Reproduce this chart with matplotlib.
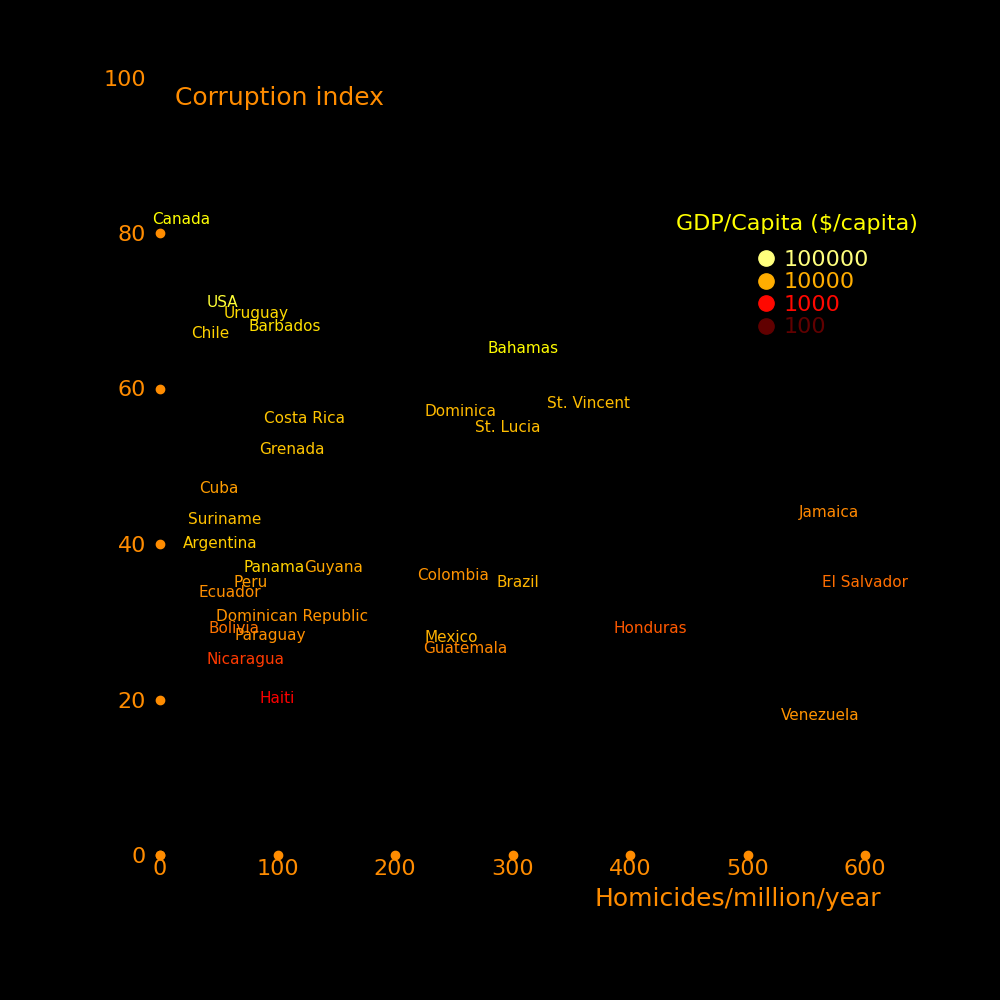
import numpy as np
import matplotlib.pyplot as plt
import matplotlib as mpl
from matplotlib.lines import Line2D

countries = ['Canada', 'USA', 'Uruguay', 'Barbados', 'Chile', 'Bahamas', 'Costa Rica',
             'Dominica', 'St. Vincent', 'St. Lucia', 'Grenada', 'Cuba', 'Suriname',
             'Argentina', 'Jamaica', 'Panama', 'Guyana', 'Colombia', 'Peru', 'Brazil',
             'El Salvador', 'Ecuador', 'Dominican Republic', 'Bolivia', 'Honduras',
             'Paraguay', 'Mexico', 'Guatemala', 'Nicaragua', 'Haiti', 'Venezuela']
homicides = [18, 53, 82, 106, 43, 309, 123, 256, 365, 296, 112, 50, 55, 51, 569,
             97, 148, 249, 77, 305, 600, 59, 112, 63, 417, 94, 248, 260, 73, 100, 562]
corruption = [81.8, 71.1, 69.6, 68.0, 67.1, 65.1, 56.1, 57.1, 58.1, 55.0, 52.1, 47.1,
              43.1, 40.1, 44.1, 37.0, 37.0, 36.0, 35.1, 35.1, 35.1, 33.7, 30.7, 29.1,
              29.1, 28.2, 28.0, 26.5, 25.1, 20.1, 18.0]
gdp = [32500, 52500, 18500, 20000, 16500, 30000, 14000, 11800, 12300, 12300, 14000,
       8000, 12800, 15500, 6000, 16500, 9400, 7000, 7700, 11200, 4100, 6500, 7000,
       4500, 3100, 6800, 10700, 5700, 2000, 860, 7000]

legend_gdp = [100000, 10000, 1000, 100]
xticks = [0, 100, 200, 300, 400, 500, 600]
yticks = [0, 20, 40, 60, 80, 100]
ydots = [0, 20, 40, 60, 80]

orange = '#ff8c00'
cmap = plt.get_cmap('hot')
norm = mpl.colors.LogNorm(vmin=10**1.475, vmax=10**5.528)

fig = plt.figure(figsize=(10, 10), dpi=100, facecolor='black')
ax = fig.add_axes([0.16, 0.145, 0.705, 0.7775])
ax.set_facecolor('black')
ax.set_xlim(0, 600)
ax.set_ylim(0, 100)
for s in ax.spines.values():
    s.set_visible(False)

# tick dots
ax.plot(xticks, [0] * len(xticks), 'o', color=orange, ms=6, clip_on=False)
ax.plot([0] * len(ydots), ydots, 'o', color=orange, ms=6, clip_on=False)

ax.set_xticks(xticks)
ax.set_yticks(yticks)
ax.tick_params(length=0, labelcolor=orange, labelsize=16)
ax.tick_params(axis='x', pad=3)
ax.tick_params(axis='y', pad=10)

for name, hx, cy, g in zip(countries, homicides, corruption, gdp):
    ax.text(hx, cy, name, color=cmap(norm(g)), fontsize=11,
            ha='center', va='center', clip_on=False)

fig.text(0.279, 0.902, 'Corruption index', color=orange, fontsize=18,
         ha='center', va='center')
fig.text(0.738, 0.101, 'Homicides/million/year', color=orange, fontsize=18,
         ha='center', va='center')

# legend
fig.text(0.797, 0.776, 'GDP/Capita ($/capita)', color='yellow', fontsize=16,
         ha='center', va='center')
handles = [Line2D([], [], ls='', marker='o', ms=11, color=cmap(norm(g)))
           for g in legend_gdp]
leg = fig.legend(handles, [str(g) for g in legend_gdp],
                 loc='upper left', bbox_to_anchor=(0.757, 0.750), frameon=False,
                 fontsize=16, labelspacing=0.11, handletextpad=0.4,
                 borderpad=0.0, borderaxespad=0.0, handlelength=0.8)
for t, g in zip(leg.get_texts(), legend_gdp):
    t.set_color(cmap(norm(g)))

fig.savefig('out.png', dpi=100, facecolor='black')
